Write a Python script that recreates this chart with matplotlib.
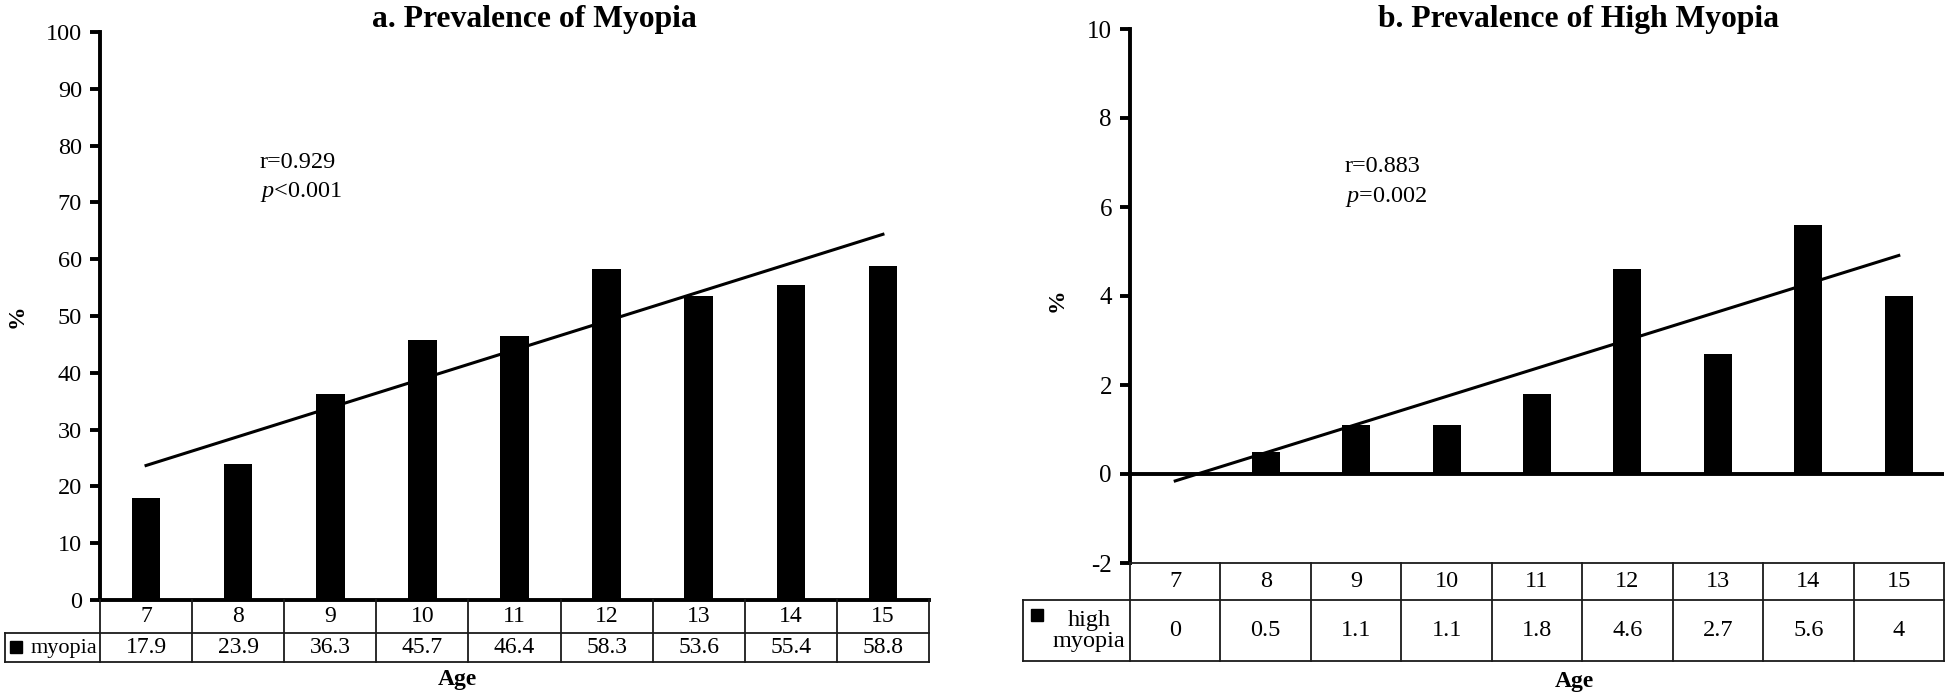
import matplotlib.pyplot as plt
import numpy as np

plt.rcParams['font.family'] = ['Liberation Serif', 'DejaVu Serif']
plt.rcParams['mathtext.fontset'] = 'custom'
plt.rcParams['mathtext.rm'] = 'Liberation Serif'
plt.rcParams['mathtext.it'] = 'Liberation Serif:italic'
plt.rcParams['axes.unicode_minus'] = False

# data
ages = [7, 8, 9, 10, 11, 12, 13, 14, 15]
myopia = [17.9, 23.9, 36.3, 45.7, 46.4, 58.3, 53.6, 55.4, 58.8]
high_myopia = [0, 0.5, 1.1, 1.1, 1.8, 4.6, 2.7, 5.6, 4]
titles = ['a. Prevalence of Myopia', 'b. Prevalence of High Myopia']
row_labels = ['myopia', 'high\nmyopia']
stats_r = ['r=0.929', 'r=0.883']
stats_p = [r'$\mathit{p}$<0.001', r'$\mathit{p}$=0.002']

W, H = 1946, 697
fig = plt.figure(figsize=(W / 100, H / 100), dpi=100)


def box(x0, y0, x1, y1):
    # pixel box (top-left origin) -> figure fraction rect
    return [x0 / W, 1 - y1 / H, (x1 - x0) / W, (y1 - y0) / H]


def bar_panel(rect, vals, ylim, ystep, zero_line, fs):
    ax = fig.add_axes(rect)
    x = np.arange(len(vals))
    ax.bar(x, vals, width=0.31, color='black', zorder=3)
    # linear trend over the age groups
    coef = np.polyfit(x, vals, 1)
    ends = x[[0, -1]]
    ax.plot(ends, np.polyval(coef, ends), color='black', lw=2.2, zorder=4)
    ax.set_xlim(-0.5, len(vals) - 0.5)
    ax.set_ylim(*ylim)
    ax.set_yticks(np.arange(ylim[0], ylim[1] + ystep / 2, ystep))
    ax.set_xticks([])
    for s in ['top', 'right', 'bottom']:
        ax.spines[s].set_visible(False)
    ax.spines['left'].set_linewidth(2.8)
    ax.tick_params(axis='y', direction='out', length=7, width=2.8, labelsize=fs, pad=6)
    if zero_line:
        ax.axhline(0, color='black', lw=2.8, zorder=5)
    else:
        ax.spines['bottom'].set_visible(True)
        ax.spines['bottom'].set_linewidth(2.8)
    return ax


def data_table(rect, vals, label, lab_w, y_rows, top_line, label_xy, fs, lab_fs):
    # y_rows: pixel rows (top, mid, bottom) of the table
    tax = fig.add_axes(rect)
    n = len(vals)
    left = -0.5 - lab_w
    tax.set_xlim(left, n - 0.5)
    tax.set_ylim(y_rows[2], y_rows[0])
    tax.axis('off')
    lc = dict(color='#1a1a1a', lw=1.3, clip_on=False)
    top, mid, bot = y_rows
    if top_line:
        tax.plot([-0.5, n - 0.5], [top, top], **lc)
    tax.plot([left, n - 0.5], [mid, mid], **lc)
    tax.plot([left, n - 0.5], [bot, bot], **lc)
    for xe in np.arange(n + 1) - 0.5:
        tax.plot([xe, xe], [top, bot], **lc)
    tax.plot([left, left], [mid, bot], **lc)
    for i, (a, v) in enumerate(zip(ages, vals)):
        tax.text(i, (top + mid) / 2, str(a), ha='center', va='center', fontsize=fs)
        tax.text(i, (mid + bot) / 2, f'{v:g}', ha='center', va='center', fontsize=fs)
    sq_x, sq_y, tx, ty = label_xy
    tax.plot([left + sq_x], [sq_y], marker='s', ms=8.5, color='black', clip_on=False)
    tax.text(left + tx, ty, label, ha='center', va='center', fontsize=lab_fs, linespacing=0.95)
    return tax


# panel a
ax_a = bar_panel(box(100, 32, 929, 600), myopia, (0, 100), 10, False, 17.5)
data_table(box(5, 600, 929, 662), myopia, row_labels[0], 95 / 92.1,
           (600, 633, 662), False, (0.12, 647, 0.645, 648), 17, 16)
ax_a.text(0.193, 0.771, stats_r[0], transform=ax_a.transAxes, fontsize=17.5, va='center')
ax_a.text(0.193, 0.718, stats_p[0], transform=ax_a.transAxes, fontsize=17.5, va='center')
fig.text(372 / W, 1 - 27 / H, titles[0], fontsize=22.8, fontweight='bold', va='baseline')
fig.text(17 / W, 1 - 316 / H, '%', fontsize=17, fontweight='bold', rotation=90,
         ha='center', va='center')
fig.text(457 / W, 1 - 679 / H, 'Age', fontsize=17, fontweight='bold', ha='center', va='center')

# panel b
ax_b = bar_panel(box(1130, 29, 1944, 563), high_myopia, (-2, 10), 2, True, 18)
data_table(box(1023, 563, 1944, 661), high_myopia, row_labels[1], 107 / 90.4,
           (563, 600, 661), True, (0.155, 615, 0.73, 631), 17.5, 17.5)
ax_b.text(0.264, 0.742, stats_r[1], transform=ax_b.transAxes, fontsize=17.5, va='center')
ax_b.text(0.264, 0.685, stats_p[1], transform=ax_b.transAxes, fontsize=17.5, va='center')
fig.text(1378 / W, 1 - 27 / H, titles[1], fontsize=22.8, fontweight='bold', va='baseline')
fig.text(1057 / W, 1 - 300 / H, '%', fontsize=17, fontweight='bold', rotation=90,
         ha='center', va='center')
fig.text(1574 / W, 1 - 682 / H, 'Age', fontsize=17, fontweight='bold', ha='center', va='center')

fig.savefig('out.png', dpi=100)
